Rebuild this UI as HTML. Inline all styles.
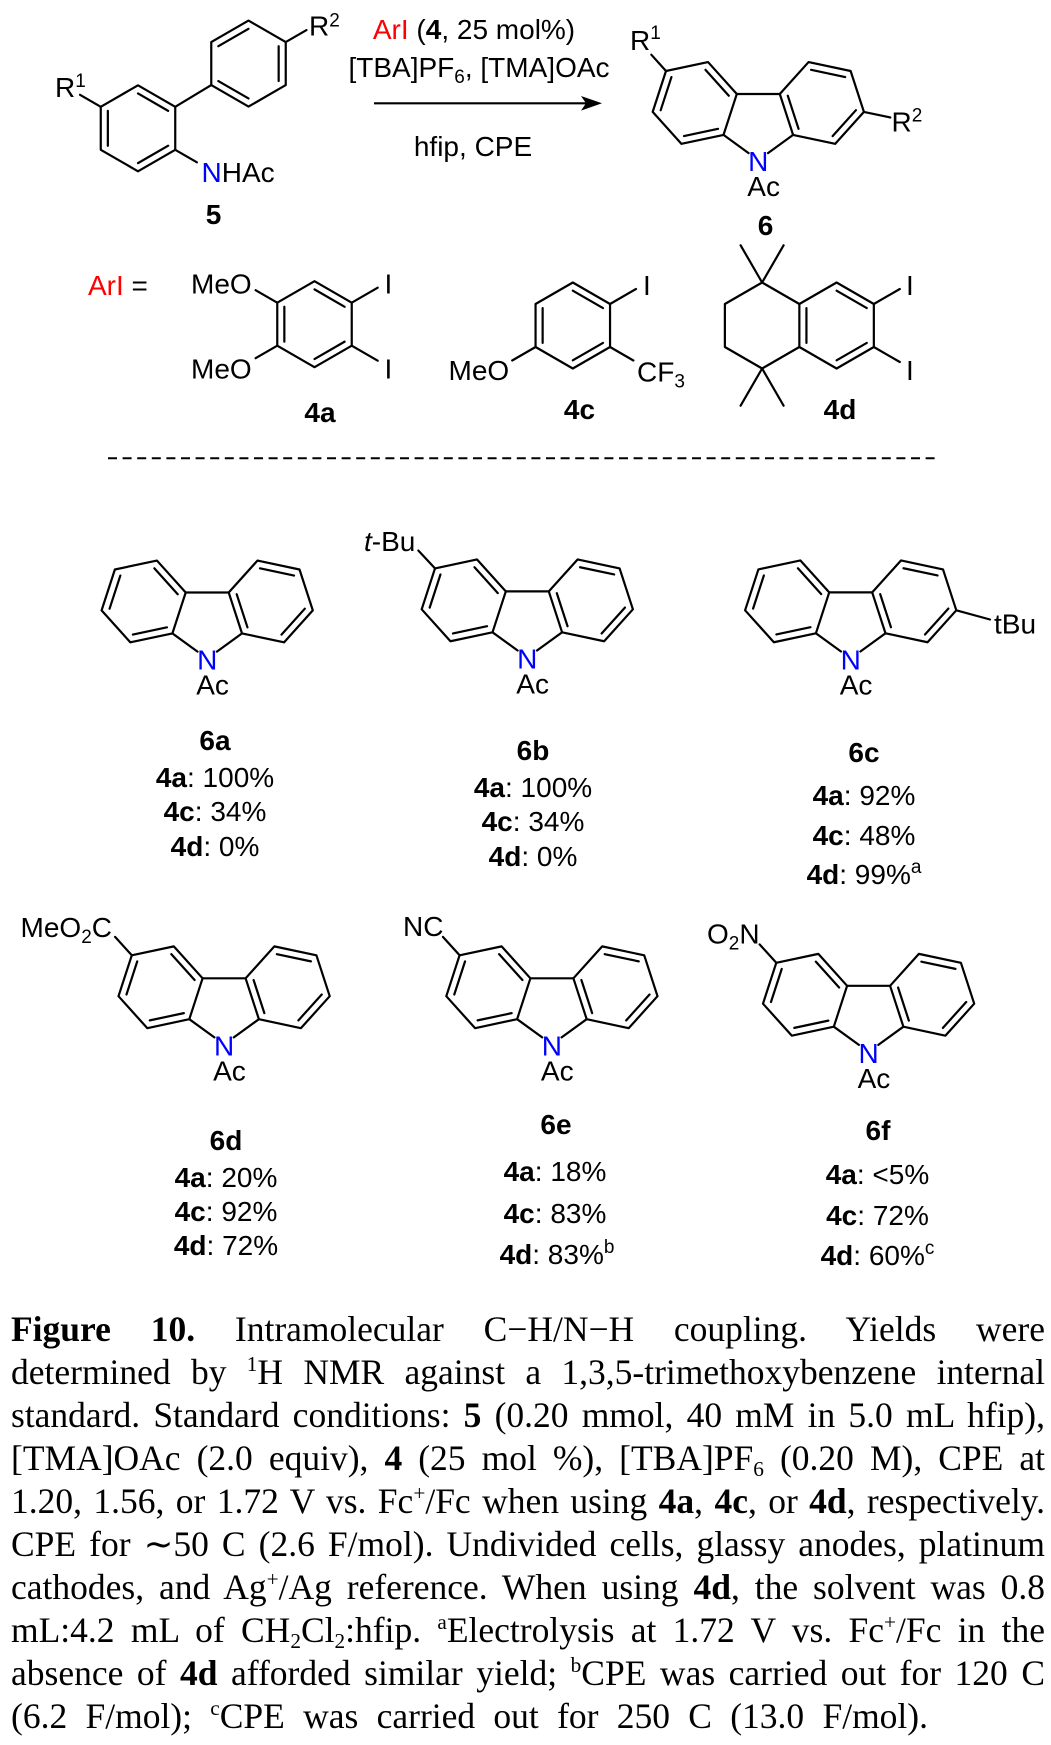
<!DOCTYPE html>
<html>
<head>
<meta charset="utf-8">
<style>
html,body{margin:0;padding:0;background:#fff;}
body{width:1051px;height:1745px;position:relative;overflow:hidden;}
svg{position:absolute;left:0;top:0;}
.cap{position:absolute;left:11px;top:1308px;width:1034px;font-family:"Liberation Serif","Times New Roman",serif;font-size:35.5px;line-height:43px;color:#000;}
.cap div{text-align:justify;text-align-last:justify;height:43px;}
.cap b{font-weight:bold;}
.cap sup{font-size:60%;line-height:0;vertical-align:0;position:relative;top:-0.6em;}
.cap sub{font-size:60%;line-height:0;vertical-align:0;position:relative;top:0.3em;}
</style>
</head>
<body>
<svg width="1051" height="1745" viewBox="0 0 1051 1745" xmlns="http://www.w3.org/2000/svg">
<defs>
  <g id="cbz" fill="none" stroke="#000" stroke-width="2.2" stroke-linejoin="round" stroke-linecap="round">
    <path d="M-21.5,-29.59 L-50.27,-61.53 L-92.32,-52.59 L-105.61,-11.7 L-76.84,20.25 L-34.79,11.3 Z"/>
    <path d="M21.5,-29.59 L50.27,-61.53 L92.32,-52.59 L105.61,-11.7 L76.84,20.25 L34.79,11.3 Z"/>
    <path d="M-21.5,-29.59 L21.5,-29.59 M-34.79,11.3 L-9.7,29.5 M34.79,11.3 L9.7,29.5"/>
    <path d="M-29.49,-27.89 L-52.79,-53.76 M-86.85,-46.52 L-97.62,-13.4 M-74.31,12.48 L-40.25,5.23 M29.49,-27.89 L40.25,5.23 M52.79,-53.76 L86.85,-46.52 M97.62,-13.4 L74.31,12.48"/>
  </g>
  <g id="bz" fill="none" stroke="#000" stroke-width="2.2" stroke-linejoin="round" stroke-linecap="round">
    <path d="M0,-43 L37.24,-21.5 L37.24,21.5 L0,43 L-37.24,21.5 L-37.24,-21.5 Z"/>
    <path d="M0,-34.83 L30.16,-17.42 M30.16,17.42 L0,34.83 M-30.16,17.42 L-30.16,-17.42"/>
  </g>
  <g id="bz2" fill="none" stroke="#000" stroke-width="2.2" stroke-linejoin="round" stroke-linecap="round">
    <path d="M0,-43 L37.24,-21.5 L37.24,21.5 L0,43 L-37.24,21.5 L-37.24,-21.5 Z"/>
    <path d="M-30.16,-17.42 L0,-34.83 M30.16,-17.42 L30.16,17.42 M-30.16,17.42 L0,34.83"/>
  </g>
</defs>

<!-- ring skeletons -->
<use href="#bz" transform="translate(138,128.3)"/>
<use href="#bz2" transform="translate(248.5,63.6)"/>
<use href="#cbz" transform="translate(758.3,123.6)"/>
<use href="#bz" transform="translate(314.5,324.2)"/>
<use href="#bz" transform="translate(572.8,325.5)"/>
<use href="#bz" transform="translate(836.6,325.5)"/>
<use href="#cbz" transform="translate(207.2,622.1)"/>
<use href="#cbz" transform="translate(527.3,621)"/>
<use href="#cbz" transform="translate(850.7,622)"/>
<use href="#cbz" transform="translate(224.1,1007.9)"/>
<use href="#cbz" transform="translate(551.9,1007.9)"/>
<use href="#cbz" transform="translate(868.6,1015.4)"/>

<!-- substituent bonds -->
<g fill="none" stroke="#000" stroke-width="2.2" stroke-linecap="round" stroke-linejoin="round">
  <!-- compound 5 -->
  <path d="M175.24,106.8 L211.26,85.1"/>
  <path d="M100.76,106.8 L80,94.8"/>
  <path d="M285.74,42.1 L306.5,30.1"/>
  <path d="M175.24,149.8 L196.9,162.3"/>
  <!-- compound 6 -->
  <path d="M666,71 L651.3,54.7"/>
  <path d="M863.9,111.9 L890.3,117.5"/>
  <!-- 4a -->
  <path d="M277.26,302.7 L255.6,290.2 M277.26,345.7 L255.6,358.2 M351.74,302.7 L377.7,287.7 M351.74,345.7 L377.7,360.7"/>
  <!-- 4c -->
  <path d="M610.04,304 L636,289 M610.04,347 L633.4,360.5 M535.56,347 L512.2,360.5"/>
  <!-- 4d -->
  <path d="M799.36,304 L762.12,282.5 L724.88,304 L724.88,347 L762.12,368.5 L799.36,347"/>
  <path d="M762.12,282.5 L740.6,245.3 M762.12,282.5 L783.6,245.3 M762.12,368.5 L740.6,405.7 M762.12,368.5 L783.6,405.7"/>
  <path d="M873.84,304 L899.8,289 M873.84,347 L899.8,362"/>
  <!-- 6b t-Bu -->
  <path d="M435,568.4 L418.3,550.5"/>
  <!-- 6c tBu -->
  <path d="M956.3,610.3 L990,619.5"/>
  <!-- 6d -->
  <path d="M131.8,955.3 L115.1,936.9"/>
  <!-- 6e -->
  <path d="M459.6,955.3 L442.9,936.9"/>
  <!-- 6f -->
  <path d="M776.3,962.8 L759.6,944.4"/>
</g>

<!-- arrow -->
<line x1="374" y1="103.3" x2="588" y2="103.3" stroke="#000" stroke-width="2.2"/>
<polygon points="602,103.3 581,96 586,103.3 581,110.6" fill="#000"/>

<!-- dashed separator -->
<line x1="108" y1="458.3" x2="940" y2="458.3" stroke="#000" stroke-width="2" stroke-dasharray="9 5.6"/>

<g font-family="'Liberation Sans', Arial, sans-serif" font-size="28" fill="#000">
  <!-- compound 5 -->
  <text x="55" y="97">R<tspan font-size="19" dy="-10">1</tspan></text>
  <text x="309" y="35.5">R<tspan font-size="19" dy="-9">2</tspan></text>
  <text x="201.5" y="182"><tspan fill="#0000ff">N</tspan>HAc</text>
  <text x="213.5" y="224" text-anchor="middle" font-weight="bold">5</text>

  <!-- reagents -->
  <text x="474" y="39" text-anchor="middle"><tspan fill="#ff0000">ArI</tspan> (<tspan font-weight="bold">4</tspan>, 25 mol%)</text>
  <text x="479" y="77" text-anchor="middle">[TBA]PF<tspan font-size="19" dy="6">6</tspan><tspan dy="-6">, [TMA]OAc</tspan></text>
  <text x="473" y="156" text-anchor="middle">hfip, CPE</text>

  <!-- compound 6 -->
  <text x="630" y="50">R<tspan font-size="19" dy="-11">1</tspan></text>
  <text x="891.5" y="131.7">R<tspan font-size="19" dy="-10">2</tspan></text>
  <text x="758.3" y="171.1" text-anchor="middle" fill="#0000ff">N</text>
  <text x="747.3" y="196.1">Ac</text>
  <text x="765.5" y="235" text-anchor="middle" font-weight="bold">6</text>

  <!-- ArI row -->
  <text x="88" y="295"><tspan fill="#ff0000">ArI</tspan> =</text>
  <text x="191" y="293.5">MeO</text>
  <text x="191" y="378.5">MeO</text>
  <text x="384.5" y="293.5">I</text>
  <text x="384.5" y="378.5">I</text>
  <text x="320" y="422" text-anchor="middle" font-weight="bold">4a</text>

  <text x="448.5" y="380">MeO</text>
  <text x="643" y="295">I</text>
  <text x="637" y="381.5">CF<tspan font-size="19" dy="6">3</tspan></text>
  <text x="579.5" y="419" text-anchor="middle" font-weight="bold">4c</text>

  <text x="906" y="295">I</text>
  <text x="906" y="380">I</text>
  <text x="840" y="419" text-anchor="middle" font-weight="bold">4d</text>

  <!-- 6a -->
  <text x="207.2" y="669.6" text-anchor="middle" fill="#0000ff">N</text>
  <text x="196.2" y="694.6">Ac</text>
  <text x="215" y="750" text-anchor="middle" font-weight="bold">6a</text>
  <text x="215" y="787" text-anchor="middle"><tspan font-weight="bold">4a</tspan>: 100%</text>
  <text x="215" y="821" text-anchor="middle"><tspan font-weight="bold">4c</tspan>: 34%</text>
  <text x="215" y="856" text-anchor="middle"><tspan font-weight="bold">4d</tspan>: 0%</text>

  <!-- 6b -->
  <text x="364" y="551"><tspan font-style="italic">t</tspan>-Bu</text>
  <text x="527.3" y="668.5" text-anchor="middle" fill="#0000ff">N</text>
  <text x="516.3" y="693.5">Ac</text>
  <text x="533" y="760" text-anchor="middle" font-weight="bold">6b</text>
  <text x="533" y="797" text-anchor="middle"><tspan font-weight="bold">4a</tspan>: 100%</text>
  <text x="533" y="831" text-anchor="middle"><tspan font-weight="bold">4c</tspan>: 34%</text>
  <text x="533" y="866" text-anchor="middle"><tspan font-weight="bold">4d</tspan>: 0%</text>

  <!-- 6c -->
  <text x="994" y="633.5">tBu</text>
  <text x="850.7" y="669.5" text-anchor="middle" fill="#0000ff">N</text>
  <text x="839.7" y="694.5">Ac</text>
  <text x="864" y="762" text-anchor="middle" font-weight="bold">6c</text>
  <text x="864" y="805" text-anchor="middle"><tspan font-weight="bold">4a</tspan>: 92%</text>
  <text x="864" y="845" text-anchor="middle"><tspan font-weight="bold">4c</tspan>: 48%</text>
  <text x="864" y="884" text-anchor="middle"><tspan font-weight="bold">4d</tspan>: 99%<tspan font-size="19" dy="-11">a</tspan></text>

  <!-- 6d -->
  <text x="20.5" y="937">MeO<tspan font-size="19" dy="6">2</tspan><tspan dy="-6">C</tspan></text>
  <text x="224.1" y="1055.4" text-anchor="middle" fill="#0000ff">N</text>
  <text x="213.1" y="1080.4">Ac</text>
  <text x="226" y="1150" text-anchor="middle" font-weight="bold">6d</text>
  <text x="226" y="1187" text-anchor="middle"><tspan font-weight="bold">4a</tspan>: 20%</text>
  <text x="226" y="1221" text-anchor="middle"><tspan font-weight="bold">4c</tspan>: 92%</text>
  <text x="226" y="1255" text-anchor="middle"><tspan font-weight="bold">4d</tspan>: 72%</text>

  <!-- 6e -->
  <text x="403" y="936">NC</text>
  <text x="551.9" y="1055.4" text-anchor="middle" fill="#0000ff">N</text>
  <text x="540.9" y="1080.4">Ac</text>
  <text x="556" y="1134" text-anchor="middle" font-weight="bold">6e</text>
  <text x="555" y="1181" text-anchor="middle"><tspan font-weight="bold">4a</tspan>: 18%</text>
  <text x="555" y="1223" text-anchor="middle"><tspan font-weight="bold">4c</tspan>: 83%</text>
  <text x="557" y="1264" text-anchor="middle"><tspan font-weight="bold">4d</tspan>: 83%<tspan font-size="19" dy="-11">b</tspan></text>

  <!-- 6f -->
  <text x="707" y="943.3">O<tspan font-size="19" dy="6">2</tspan><tspan dy="-6">N</tspan></text>
  <text x="868.6" y="1062.9" text-anchor="middle" fill="#0000ff">N</text>
  <text x="857.6" y="1087.9">Ac</text>
  <text x="878" y="1140" text-anchor="middle" font-weight="bold">6f</text>
  <text x="877.5" y="1184" text-anchor="middle"><tspan font-weight="bold">4a</tspan>: &lt;5%</text>
  <text x="877.5" y="1225" text-anchor="middle"><tspan font-weight="bold">4c</tspan>: 72%</text>
  <text x="877.5" y="1265" text-anchor="middle"><tspan font-weight="bold">4d</tspan>: 60%<tspan font-size="19" dy="-11">c</tspan></text>
</g>
</svg>

<div class="cap">
  <div><b>Figure 10.</b> Intramolecular C−H/N−H coupling. Yields were</div>
  <div>determined by <sup>1</sup>H NMR against a 1,3,5-trimethoxybenzene internal</div>
  <div>standard. Standard conditions: <b>5</b> (0.20 mmol, 40 mM in 5.0 mL hfip),</div>
  <div>[TMA]OAc (2.0 equiv), <b>4</b> (25 mol %), [TBA]PF<sub>6</sub> (0.20 M), CPE at</div>
  <div>1.20, 1.56, or 1.72 V vs. Fc<sup>+</sup>/Fc when using <b>4a</b>, <b>4c</b>, or <b>4d</b>, respectively.</div>
  <div>CPE for ∼50 C (2.6 F/mol). Undivided cells, glassy anodes, platinum</div>
  <div>cathodes, and Ag<sup>+</sup>/Ag reference. When using <b>4d</b>, the solvent was 0.8</div>
  <div>mL:4.2 mL of CH<sub>2</sub>Cl<sub>2</sub>:hfip. <sup>a</sup>Electrolysis at 1.72 V vs. Fc<sup>+</sup>/Fc in the</div>
  <div>absence of <b>4d</b> afforded similar yield; <sup>b</sup>CPE was carried out for 120 C</div>
  <div style="width:917px">(6.2 F/mol); <sup>c</sup>CPE was carried out for 250 C (13.0 F/mol).</div>
</div>
</body>
</html>
